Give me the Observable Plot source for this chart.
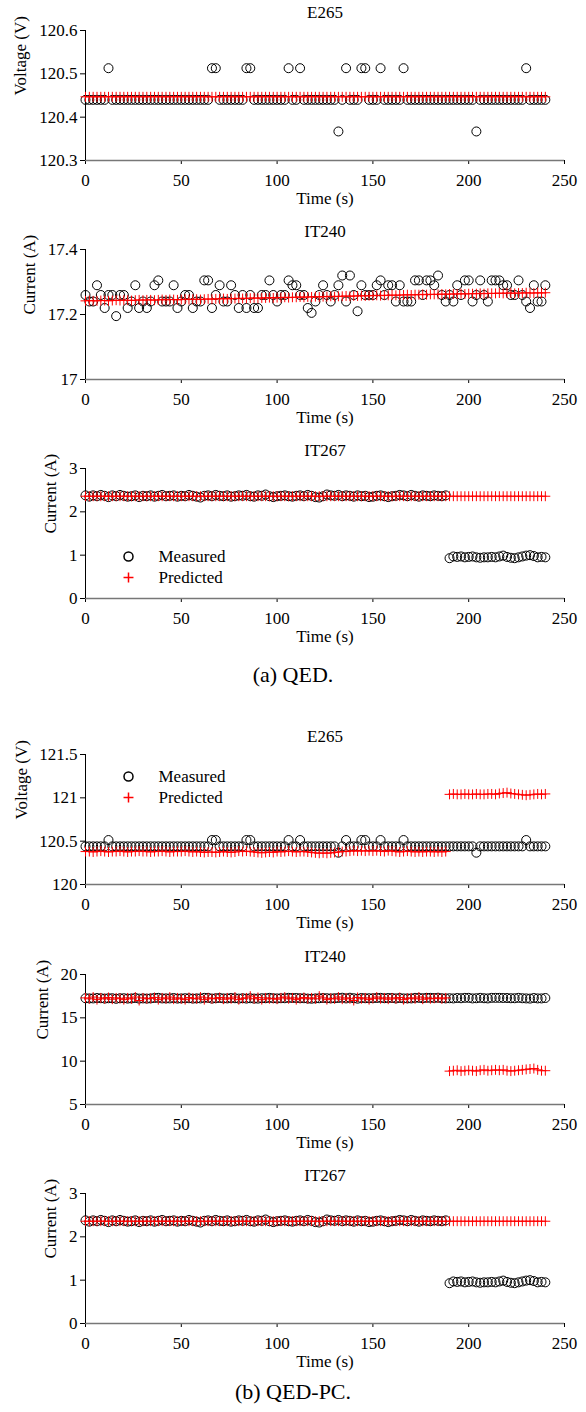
<!DOCTYPE html>
<html><head><meta charset="utf-8">
<script src="https://cdn.jsdelivr.net/npm/d3@7"></script>
<script src="https://cdn.jsdelivr.net/npm/@observablehq/plot@0.6"></script>
<style>
body{margin:0;background:#fff;}
#fig{position:relative;width:586px;height:1412px;font-family:'Liberation Serif','Times New Roman',serif;background:#fff;}
.panel{position:absolute;left:0;}
.panel text{font-family:'Liberation Serif','Times New Roman',serif;font-weight:normal;}
.cap{position:absolute;left:0;width:586px;text-align:center;font-size:22px;line-height:1;color:#000;}
</style></head><body><div id="fig"></div>
<script>
// ---- data ----
const time = [0,2,4,6,8,10,12,14,16,18,20,22,24,26,28,30,32,34,36,38,40,42,44,46,48,50,52,54,56,58,
60,62,64,66,68,70,72,74,76,78,80,82,84,86,88,90,92,94,96,98,100,102,104,106,108,110,112,114,116,118,
120,122,124,126,128,130,132,134,136,138,140,142,144,146,148,150,152,154,156,158,160,162,164,166,168,170,172,174,176,178,
180,182,184,186,188,190,192,194,196,198,200,202,204,206,208,210,212,214,216,218,220,222,224,226,228,230,232,234,236,238,240];

const xTicks = [0,50,100,150,200,250];

const measuredE265 = [
120.44,120.44,120.44,120.44,120.44,120.44,120.513,120.44,120.44,120.44,
120.44,120.44,120.44,120.44,120.44,120.44,120.44,120.44,120.44,120.44,
120.44,120.44,120.44,120.44,120.44,120.44,120.44,120.44,120.44,120.44,
120.44,120.44,120.44,120.513,120.513,120.44,120.44,120.44,120.44,120.44,
120.44,120.44,120.513,120.513,120.44,120.44,120.44,120.44,120.44,120.44,
120.44,120.44,120.44,120.513,120.44,120.44,120.513,120.44,120.44,120.44,
120.44,120.44,120.44,120.44,120.44,120.44,120.367,120.44,120.513,120.44,
120.44,120.44,120.513,120.513,120.44,120.44,120.44,120.513,120.44,120.44,
120.44,120.44,120.44,120.513,120.44,120.44,120.44,120.44,120.44,120.44,
120.44,120.44,120.44,120.44,120.44,120.44,120.44,120.44,120.44,120.44,
120.44,120.44,120.367,120.44,120.44,120.44,120.44,120.44,120.44,120.44,
120.44,120.44,120.44,120.44,120.44,120.513,120.44,120.44,120.44,120.44,
120.44];

const predictedE265_QED = [
120.447,120.447,120.447,120.447,120.447,120.447,120.447,120.447,120.447,120.447,
120.447,120.447,120.447,120.447,120.447,120.447,120.447,120.447,120.447,120.447,
120.447,120.447,120.447,120.447,120.447,120.447,120.447,120.447,120.447,120.447,
120.447,120.447,120.447,120.447,120.447,120.447,120.447,120.447,120.447,120.447,
120.447,120.447,120.447,120.447,120.447,120.447,120.447,120.447,120.447,120.447,
120.447,120.447,120.447,120.447,120.447,120.447,120.447,120.447,120.447,120.447,
120.447,120.447,120.447,120.447,120.447,120.447,120.447,120.447,120.447,120.447,
120.447,120.447,120.447,120.447,120.447,120.447,120.447,120.447,120.447,120.447,
120.447,120.447,120.447,120.447,120.447,120.447,120.447,120.447,120.447,120.447,
120.447,120.447,120.447,120.447,120.447,120.447,120.447,120.447,120.447,120.447,
120.447,120.447,120.447,120.447,120.447,120.447,120.447,120.447,120.447,120.447,
120.447,120.447,120.447,120.447,120.447,120.447,120.447,120.447,120.447,120.447,
120.447];

const predictedE265_PC = [
120.38,120.38,120.375,120.38,120.385,120.38,120.375,120.38,120.38,120.385,
120.38,120.375,120.38,120.38,120.385,120.38,120.38,120.375,120.38,120.38,
120.385,120.38,120.375,120.38,120.38,120.38,120.385,120.38,120.375,120.38,
120.375,120.37,120.375,120.375,120.37,120.375,120.38,120.375,120.37,120.375,
120.385,120.38,120.385,120.38,120.375,120.37,120.365,120.37,120.375,120.37,
120.38,120.375,120.38,120.385,120.38,120.375,120.38,120.38,120.375,120.37,
120.365,120.36,120.365,120.36,120.365,120.37,120.375,120.38,120.38,120.385,
120.39,120.385,120.39,120.385,120.39,120.385,120.39,120.385,120.38,120.39,
120.385,120.38,120.375,120.38,120.385,120.38,120.375,120.38,120.375,120.38,
120.38,120.375,120.38,120.375,120.38,
121.04,121.045,121.04,121.04,121.045,121.04,121.04,121.045,121.04,121.04,
121.045,121.045,121.04,121.05,121.055,121.06,121.05,121.045,121.04,121.035,
121.03,121.035,121.04,121.045,121.04,121.045];

const measuredIT240 = [
17.26,17.24,17.24,17.29,17.26,17.22,17.26,17.26,17.195,17.26,
17.26,17.22,17.24,17.29,17.22,17.24,17.22,17.24,17.29,17.305,
17.24,17.24,17.24,17.29,17.22,17.24,17.26,17.26,17.22,17.24,
17.24,17.305,17.305,17.22,17.26,17.29,17.24,17.24,17.29,17.26,
17.22,17.26,17.22,17.26,17.22,17.22,17.26,17.26,17.305,17.26,
17.24,17.26,17.26,17.305,17.29,17.29,17.26,17.26,17.22,17.205,
17.24,17.26,17.29,17.26,17.24,17.26,17.29,17.32,17.24,17.32,
17.26,17.21,17.29,17.26,17.26,17.26,17.29,17.305,17.26,17.29,
17.29,17.24,17.29,17.24,17.24,17.24,17.305,17.305,17.26,17.305,
17.305,17.29,17.32,17.26,17.24,17.26,17.24,17.29,17.26,17.305,
17.305,17.24,17.26,17.305,17.26,17.24,17.305,17.305,17.305,17.29,
17.29,17.26,17.26,17.305,17.26,17.24,17.22,17.29,17.24,17.24,
17.29];

const predictedIT240_QED = [
17.242,17.243,17.242,17.242,17.243,17.243,17.242,17.243,17.244,17.243,
17.244,17.244,17.243,17.244,17.245,17.244,17.245,17.245,17.244,17.245,
17.246,17.245,17.246,17.246,17.245,17.246,17.247,17.246,17.247,17.247,
17.246,17.247,17.248,17.247,17.248,17.248,17.249,17.248,17.249,17.249,
17.250,17.249,17.250,17.250,17.251,17.250,17.251,17.251,17.252,17.251,
17.252,17.252,17.253,17.252,17.253,17.253,17.254,17.253,17.254,17.254,
17.255,17.254,17.255,17.255,17.256,17.255,17.256,17.256,17.257,17.256,
17.257,17.257,17.258,17.257,17.258,17.258,17.259,17.258,17.259,17.259,
17.260,17.259,17.260,17.260,17.261,17.260,17.261,17.261,17.262,17.261,
17.262,17.262,17.262,17.263,17.262,17.263,17.263,17.263,17.264,17.263,
17.264,17.264,17.264,17.265,17.264,17.265,17.265,17.265,17.266,17.265,
17.266,17.266,17.265,17.266,17.266,17.267,17.266,17.266,17.267,17.266,
17.267];

const predictedIT240_PC = [
17.3,17.2,17.4,17.1,17.3,17.2,17.35,17.15,17.3,17.25,
17.1,17.3,17.2,17.4,17.0,17.3,17.2,17.25,17.35,17.1,
17.3,17.2,17.4,17.15,17.3,17.2,17.1,17.35,17.25,17.2,
17.4,17.1,17.3,17.2,17.25,17.35,17.15,17.3,17.2,17.4,
17.1,17.25,17.3,17.5,17.2,17.35,17.1,17.3,17.2,17.25,
17.15,17.3,17.4,17.2,17.3,17.1,17.25,17.35,17.2,17.3,
17.2,17.5,17.3,17.1,17.25,17.2,17.4,17.15,17.3,17.2,
17.0,17.35,17.2,17.3,17.1,17.25,17.4,17.2,17.3,17.15,
17.3,17.2,17.35,17.1,17.25,17.3,17.2,17.4,17.15,17.3,
17.2,17.25,17.3,17.2,17.3,
8.85,8.9,8.95,8.85,8.9,8.95,8.9,8.85,8.95,9.0,
8.9,8.95,9.0,8.95,9.0,8.9,8.85,8.9,8.95,9.0,
9.05,9.1,9.15,9.0,8.9,8.9];

const measuredIT267 = [
2.38,2.35,2.38,2.36,2.39,2.37,2.34,2.38,2.36,2.39,
2.37,2.35,2.36,2.38,2.34,2.37,2.36,2.38,2.35,2.37,
2.39,2.36,2.37,2.38,2.35,2.37,2.36,2.39,2.37,2.35,
2.33,2.37,2.38,2.36,2.39,2.37,2.36,2.38,2.35,2.36,
2.38,2.37,2.39,2.36,2.35,2.38,2.37,2.40,2.36,2.34,
2.36,2.37,2.38,2.36,2.35,2.37,2.38,2.36,2.39,2.37,
2.34,2.33,2.36,2.40,2.38,2.37,2.39,2.36,2.38,2.37,
2.35,2.38,2.36,2.37,2.34,2.35,2.37,2.38,2.36,2.34,
2.36,2.37,2.39,2.38,2.36,2.39,2.37,2.35,2.38,2.37,
2.36,2.38,2.37,2.36,2.38,
0.93,0.97,0.96,0.97,0.95,0.96,0.97,0.95,0.94,0.95,
0.95,0.96,0.95,0.97,0.99,0.96,0.94,0.93,0.95,0.97,
0.99,1.0,0.98,0.95,0.96,0.95];

const predictedIT267 = [
2.36,2.36,2.36,2.36,2.36,2.36,2.36,2.36,2.36,2.36,
2.36,2.36,2.36,2.36,2.36,2.36,2.36,2.36,2.36,2.36,
2.36,2.36,2.36,2.36,2.36,2.36,2.36,2.36,2.36,2.36,
2.36,2.36,2.36,2.36,2.36,2.36,2.36,2.36,2.36,2.36,
2.36,2.36,2.36,2.36,2.36,2.36,2.36,2.36,2.36,2.36,
2.36,2.36,2.36,2.36,2.36,2.36,2.36,2.36,2.36,2.36,
2.36,2.36,2.36,2.36,2.36,2.36,2.36,2.36,2.36,2.36,
2.36,2.36,2.36,2.36,2.36,2.36,2.36,2.36,2.36,2.36,
2.36,2.36,2.36,2.36,2.36,2.36,2.36,2.36,2.36,2.36,
2.36,2.36,2.36,2.36,2.36,2.36,2.36,2.36,2.36,2.36,
2.36,2.36,2.36,2.36,2.36,2.36,2.36,2.36,2.36,2.36,
2.36,2.36,2.36,2.36,2.36,2.36,2.36,2.36,2.36,2.36,
2.36];

const ticksE265_QED = [120.3,120.4,120.5,120.6];
const ticksIT240_QED = [17,17.2,17.4];
const ticksIT267 = [0,1,2,3];
const ticksE265_PC = [120,120.5,121,121.5];
const ticksIT240_PC = [5,10,15,20];

const legendLabels = ["Measured","Predicted"];
const captions = ["(a) QED.","(b) QED-PC."];

// ---- drawing ----
const fig = document.getElementById("fig");
const serif = "'Liberation Serif','Times New Roman',serif";

function panel({top, title, yLabel, yDomain, yTicks, yLabelOffset, measured, predicted, legendDy}) {
  const meas = time.map((t, i) => ({t, v: measured[i]}));
  const pred = time.map((t, i) => ({t, v: predicted[i]}));
  const txt = {fill: "#000", fontFamily: serif, fontSize: 17, fontWeight: "normal", lineAnchor: "middle"};
  const marks = [
    Plot.ruleY([yDomain[0]], {stroke: "#777", strokeWidth: 1.6}),
    Plot.ruleX([0], {stroke: "#000", strokeWidth: 1}),
    Plot.dot(meas, {x: "t", y: "v", r: 4.5, stroke: "#000", strokeWidth: 1, fill: "none"}),
    Plot.dot(pred, {x: "t", y: "v", symbol: "plus", r: 3.3, stroke: "red", strokeWidth: 1}),
    Plot.text([title], {...txt, frameAnchor: "top", dy: -18}),
    Plot.text(["Time (s)"], {...txt, frameAnchor: "bottom", dy: 38}),
    Plot.text([yLabel], {...txt, frameAnchor: "left", dx: -yLabelOffset, rotate: -90})
  ];
  if (legendDy != null) {
    marks.push(
      Plot.dot([0], {frameAnchor: "top-left", dx: 43, dy: legendDy, r: 4.5, stroke: "#000", fill: "none"}),
      Plot.dot([0], {frameAnchor: "top-left", dx: 43, dy: legendDy + 21, symbol: "plus", r: 3.3, stroke: "red"}),
      Plot.text([legendLabels[0]], {...txt, frameAnchor: "top-left", dx: 73, dy: legendDy, textAnchor: "start"}),
      Plot.text([legendLabels[1]], {...txt, frameAnchor: "top-left", dx: 73, dy: legendDy + 21, textAnchor: "start"})
    );
  }
  const chart = Plot.plot({
    width: 586,
    height: 219,
    marginLeft: 85,
    marginRight: 22,
    marginTop: 30,
    marginBottom: 59,
    style: {fontFamily: serif, fontSize: "17px", color: "#000", background: "transparent", overflow: "visible"},
    x: {domain: [0, 250], ticks: xTicks, tickSize: 4, tickPadding: 9, label: null},
    y: {domain: yDomain, ticks: yTicks, tickSize: 5, tickPadding: 3, label: null, tickFormat: d => String(d)},
    marks
  });
  chart.classList.add("panel");
  chart.style.top = top + "px";
  fig.appendChild(chart);
}

panel({top: 0, title: "E265", yLabel: "Voltage (V)", yDomain: [120.3, 120.6], yTicks: ticksE265_QED, yLabelOffset: 65, measured: measuredE265, predicted: predictedE265_QED});
panel({top: 219, title: "IT240", yLabel: "Current (A)", yDomain: [17, 17.4], yTicks: ticksIT240_QED, yLabelOffset: 56, measured: measuredIT240, predicted: predictedIT240_QED});
panel({top: 438, title: "IT267", yLabel: "Current (A)", yDomain: [0, 3], yTicks: ticksIT267, yLabelOffset: 35, measured: measuredIT267, predicted: predictedIT267, legendDy: 88});
panel({top: 724, title: "E265", yLabel: "Voltage (V)", yDomain: [120, 121.5], yTicks: ticksE265_PC, yLabelOffset: 64, measured: measuredE265, predicted: predictedE265_PC, legendDy: 22});
panel({top: 944, title: "IT240", yLabel: "Current (A)", yDomain: [5, 20], yTicks: ticksIT240_PC, yLabelOffset: 43, measured: measuredIT240, predicted: predictedIT240_PC});
panel({top: 1163, title: "IT267", yLabel: "Current (A)", yDomain: [0, 3], yTicks: ticksIT267, yLabelOffset: 35, measured: measuredIT267, predicted: predictedIT267});

const capTops = [664, 1381];
captions.forEach((c, i) => {
  const d = document.createElement("div");
  d.className = "cap";
  d.style.top = capTops[i] + "px";
  d.textContent = c;
  fig.appendChild(d);
});
</script>
</body></html>
